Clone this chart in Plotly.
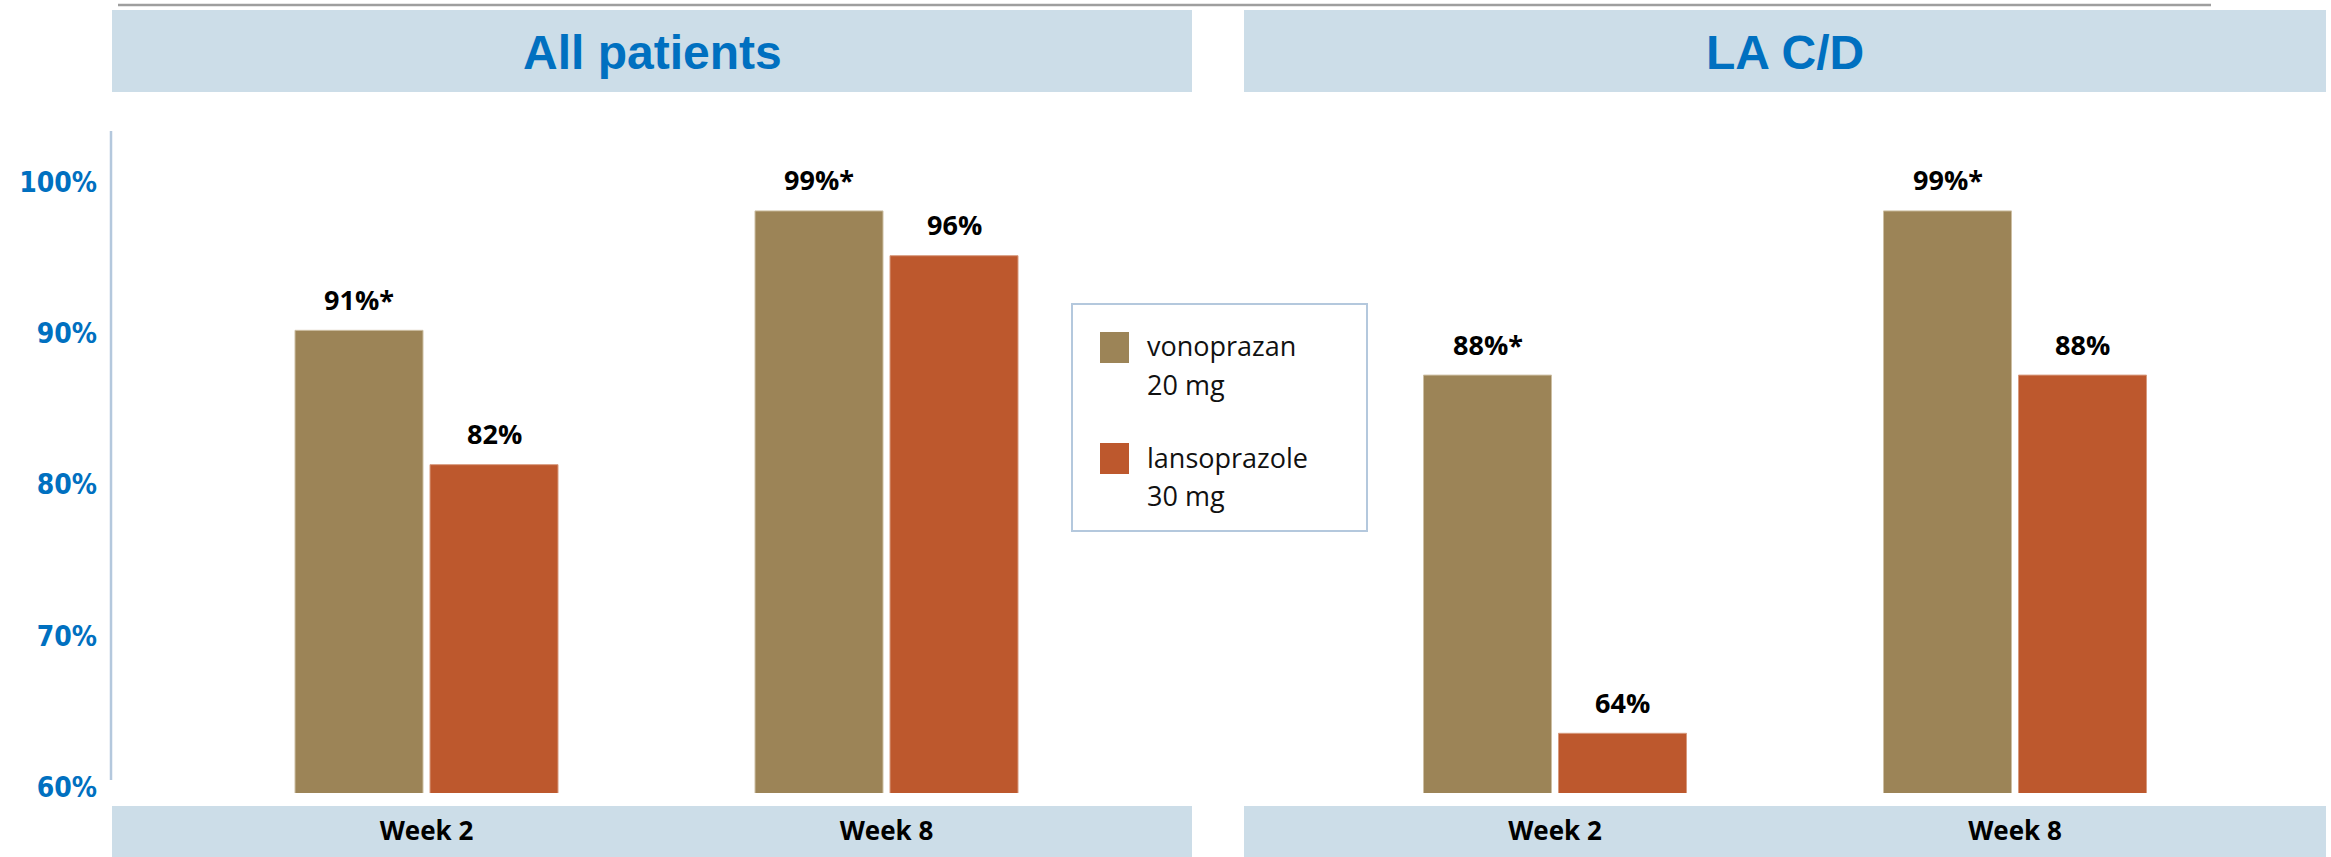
import plotly.graph_objects as go

# ---------------- data ----------------
groups = ["Week 2", "Week 8"]
series_names = ["vonoprazan", "lansoprazole"]
series_doses = ["20 mg", "30 mg"]
all_vono = [91, 99]
all_lanso = [82, 96]
lacd_vono = [88, 99]
lacd_lanso = [64, 88]
vono_sig = ["*", "*"]          # significance marks on vonoprazan bars
lanso_sig = ["", ""]
panel_titles = ["All patients", "LA C/D"]
y_ticks = [60, 70, 80, 90, 100]

# ---------------- style ----------------
W, H = 2331, 857
C_VONO = "#9C8457"
C_LANSO = "#BD582D"
C_BOX = "#CCDDE8"
C_BLUE = "#0070C0"
C_AXIS = "#B4C8DD"

PX_PER_CAT = 460.0
BAR_W = 128 / PX_PER_CAT
GAP = 7 / PX_PER_CAT
OFF_VONO = -(BAR_W + GAP / 2)
OFF_LANSO = GAP / 2


def px(x):
    return x / W


def py(y):
    return 1 - y / H


fig = go.Figure()

panels = [
    ("x", all_vono, all_lanso),
    ("x2", lacd_vono, lacd_lanso),
]

for i, (xa, v, l) in enumerate(panels):
    fig.add_trace(go.Bar(
        x=groups, y=v, xaxis=xa, yaxis="y", name=series_names[0],
        width=BAR_W, offset=OFF_VONO, marker=dict(color=C_VONO, line=dict(color="#CDBFA3", width=1)),
        showlegend=False, hoverinfo="skip",
    ))
    fig.add_trace(go.Bar(
        x=groups, y=l, xaxis=xa, yaxis="y", name=series_names[1],
        width=BAR_W, offset=OFF_LANSO, marker=dict(color=C_LANSO, line=dict(color="#D89A7E", width=1)),
        showlegend=False, hoverinfo="skip",
    ))

# helper trace so that the tick-label axis is drawn
fig.add_trace(go.Scatter(x=[None], y=[None], xaxis="x", yaxis="y3",
                         showlegend=False, hoverinfo="skip", mode="markers"))

annotations = []
lab_font = dict(family="Open Sans", size=27, color="black", weight="bold")
for xa, v, l in panels:
    xref = xa
    for g, val, s in zip(groups, v, vono_sig):
        annotations.append(dict(
            x=g, y=val, xref=xref, yref="y", text=f"{val}%{s}", showarrow=False,
            xshift=(OFF_VONO + BAR_W / 2) * PX_PER_CAT, yshift=31, yanchor="middle",
            font=lab_font))
    for g, val, s in zip(groups, l, lanso_sig):
        annotations.append(dict(
            x=g, y=val, xref=xref, yref="y", text=f"{val}%{s}", showarrow=False,
            xshift=(OFF_LANSO + BAR_W / 2) * PX_PER_CAT, yshift=31, yanchor="middle",
            font=lab_font))

# panel titles
title_font = dict(family="Liberation Sans, Arial", size=48, color=C_BLUE, weight="bold")
annotations.append(dict(x=px(652), y=py(52), xref="paper", yref="paper", text=panel_titles[0],
                        showarrow=False, xanchor="center", yanchor="middle", font=title_font))
annotations.append(dict(x=px(1785), y=py(52), xref="paper", yref="paper", text=panel_titles[1],
                        showarrow=False, xanchor="center", yanchor="middle", font=title_font))

# legend (drawn)
leg_font = dict(family="Open Sans", size=27, color="#111111")
leg_rows = [(C_VONO, 332, series_names[0], series_doses[0]),
            (C_LANSO, 443, series_names[1], series_doses[1])]
shapes = []
for col, ytop, nm, dose in leg_rows:
    shapes.append(dict(type="rect", xref="paper", yref="paper", x0=px(1100), x1=px(1129),
                       y0=py(ytop), y1=py(ytop + 31), fillcolor=col, line=dict(width=0)))
    annotations.append(dict(x=px(1145), y=py(ytop + 14), xref="paper", yref="paper", text=nm,
                            showarrow=False, xanchor="left", yanchor="middle", font=leg_font))
    annotations.append(dict(x=px(1145), y=py(ytop + 53), xref="paper", yref="paper", text=dose,
                            showarrow=False, xanchor="left", yanchor="middle", font=leg_font))

shapes += [
    # legend border
    dict(type="rect", xref="paper", yref="paper", x0=px(1072), x1=px(1367), y0=py(304), y1=py(531),
         line=dict(color=C_AXIS, width=2), fillcolor="rgba(0,0,0,0)"),
    # title boxes
    dict(type="rect", xref="paper", yref="paper", x0=px(112), x1=px(1192), y0=py(10), y1=py(92),
         fillcolor=C_BOX, line=dict(width=0), layer="below"),
    dict(type="rect", xref="paper", yref="paper", x0=px(1244), x1=px(2326), y0=py(10), y1=py(92),
         fillcolor=C_BOX, line=dict(width=0), layer="below"),
    # category boxes
    dict(type="rect", xref="paper", yref="paper", x0=px(112), x1=px(1192), y0=py(806), y1=py(857),
         fillcolor=C_BOX, line=dict(width=0), layer="below"),
    dict(type="rect", xref="paper", yref="paper", x0=px(1244), x1=px(2326), y0=py(806), y1=py(857),
         fillcolor=C_BOX, line=dict(width=0), layer="below"),
    # top rule
    dict(type="line", xref="paper", yref="paper", x0=px(118), x1=px(2211), y0=py(5), y1=py(5),
         line=dict(color="#9E9E9E", width=2.5)),
    # y axis line
    dict(type="line", xref="paper", yref="paper", x0=px(111), x1=px(111), y0=py(131), y1=py(780),
         line=dict(color=C_AXIS, width=2.5)),
]

cat_font = dict(family="Open Sans", size=26, color="black", weight="bold")
xcommon = dict(type="category", showgrid=False, zeroline=False, showline=False, ticks="",
               tickfont=cat_font, ticklabelstandoff=20, fixedrange=True)

fig.update_layout(
    width=W, height=H,
    autosize=False,
    margin=dict(l=0, r=0, t=0, b=0, pad=0, autoexpand=False),
    paper_bgcolor="white", plot_bgcolor="rgba(0,0,0,0)",
    barmode="overlay",
    showlegend=False,
    xaxis=dict(domain=[px(112), px(1192)], range=[(112 - 426.5) / PX_PER_CAT, (1192 - 426.5) / PX_PER_CAT],
               anchor="y", **xcommon),
    xaxis2=dict(domain=[px(1244), px(2325)], range=[(1244 - 1555) / PX_PER_CAT, (2325 - 1555) / PX_PER_CAT],
                anchor="y", **xcommon),
    yaxis=dict(domain=[py(793), py(196)], range=[60, 100], showgrid=False, zeroline=False,
               showline=False, showticklabels=False, ticks="", fixedrange=True),
    yaxis3=dict(domain=[py(787), py(182)], range=[60, 100], anchor="free", position=px(111),
                side="left", showgrid=False, zeroline=False, showline=False, ticks="",
                tickvals=y_ticks, ticktext=[f"{t}%" for t in y_ticks], ticklabelstandoff=14,
                tickfont=dict(family="DejaVu Sans Condensed, DejaVu Sans", size=28, color=C_BLUE,
                              weight="bold"), fixedrange=True),
    annotations=annotations,
    shapes=shapes,
)

fig.write_html("out.html", config={"responsive": False, "displayModeBar": False},
               post_script="document.body.style.margin='0';document.body.style.overflow='hidden';")
